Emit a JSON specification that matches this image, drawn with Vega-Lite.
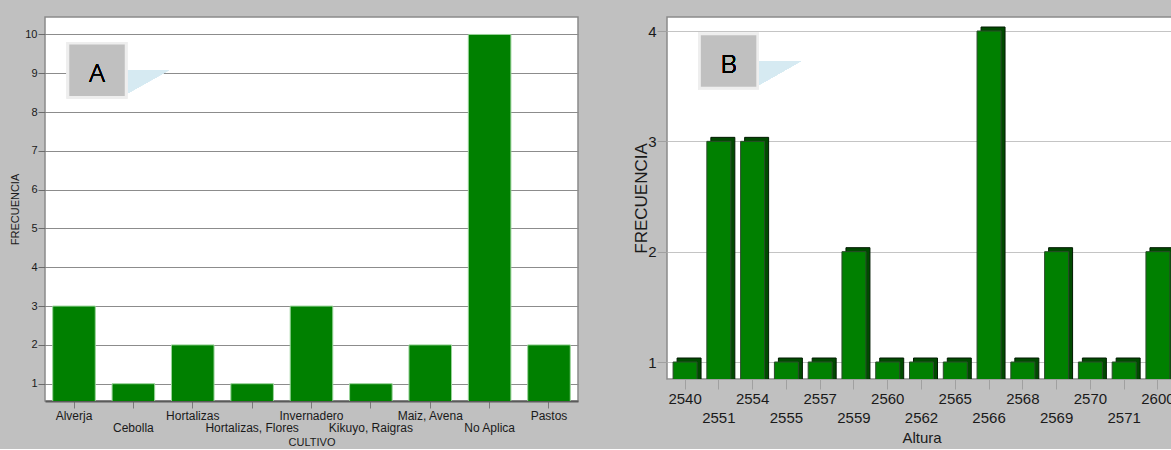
{
  "$schema": "https://vega.github.io/schema/vega-lite/v6.json",
  "background": "#c0c0c0",
  "padding": {"left": 9, "top": 16, "right": 0, "bottom": 0},
  "spacing": 52,
  "datasets": {
    "cultivo": [
      {"cultivo": "Alverja", "frecuencia": 3},
      {"cultivo": "Cebolla", "frecuencia": 1},
      {"cultivo": "Hortalizas", "frecuencia": 2},
      {"cultivo": "Hortalizas, Flores", "frecuencia": 1},
      {"cultivo": "Invernadero", "frecuencia": 3},
      {"cultivo": "Kikuyo, Raigras", "frecuencia": 1},
      {"cultivo": "Maiz, Avena", "frecuencia": 2},
      {"cultivo": "No Aplica", "frecuencia": 10},
      {"cultivo": "Pastos", "frecuencia": 2}
    ],
    "altura": [
      {"altura": "2540", "frecuencia": 1},
      {"altura": "2551", "frecuencia": 3},
      {"altura": "2554", "frecuencia": 3},
      {"altura": "2555", "frecuencia": 1},
      {"altura": "2557", "frecuencia": 1},
      {"altura": "2559", "frecuencia": 2},
      {"altura": "2560", "frecuencia": 1},
      {"altura": "2562", "frecuencia": 1},
      {"altura": "2565", "frecuencia": 1},
      {"altura": "2566", "frecuencia": 4},
      {"altura": "2568", "frecuencia": 1},
      {"altura": "2569", "frecuencia": 2},
      {"altura": "2570", "frecuencia": 1},
      {"altura": "2571", "frecuencia": 1},
      {"altura": "2600", "frecuencia": 2}
    ]
  },
  "config": {
    "view": {"fill": "white", "stroke": "#8a8a8a", "strokeWidth": 1.5},
    "axis": {
      "labelFont": "Liberation Sans",
      "titleFont": "Liberation Sans",
      "titleFontWeight": "normal",
      "labelColor": "#1a1a1a",
      "titleColor": "#1a1a1a"
    },
    "text": {"font": "Open Sans"}
  },
  "hconcat": [
    {
      "width": 533,
      "height": 384,
      "data": {"name": "cultivo"},
      "layer": [
        {
          "mark": {"type": "bar", "fill": "#008000", "stroke": "#9ad49a", "strokeWidth": 1, "clip": true},
          "encoding": {
            "x": {
              "field": "cultivo", "type": "nominal", "sort": null, "title": "CULTIVO",
              "scale": {"paddingInner": 0.283, "paddingOuter": 0.13},
              "axis": {
                "labelAngle": 0, "labelFontSize": 12, "labelLineHeight": 12.5, "labelPadding": 2,
                "labelOverlap": false, "labelBound": false,
                "labelExpr": "indexof(['Alverja','Cebolla','Hortalizas','Hortalizas, Flores','Invernadero','Kikuyo, Raigras','Maiz, Avena','No Aplica','Pastos'], datum.value) % 2 == 1 ? ['', datum.label] : datum.label",
                "domainColor": "#5a5a5a", "domainWidth": 2,
                "tickColor": "#7a7a7a", "tickSize": 7,
                "titleFontSize": 11, "titlePadding": 3
              }
            },
            "y": {
              "field": "frecuencia", "type": "quantitative", "title": "FRECUENCIA",
              "scale": {"domain": [0.554, 10.45], "zero": false, "nice": false},
              "axis": {
                "values": [1, 2, 3, 4, 5, 6, 7, 8, 9, 10], "format": "d",
                "domain": false, "grid": true, "gridColor": "#8c8c8c",
                "tickColor": "#6a6a6a", "tickSize": 7,
                "labelFontSize": 11, "labelPadding": 1,
                "titleFontSize": 11, "titlePadding": 4
              }
            }
          }
        },
        {
          "mark": {"type": "point", "filled": true, "opacity": 1, "fill": "#d6eaf2", "strokeWidth": 0, "size": 3364, "shape": "M1,0 L2.48,0 L1,0.83 Z", "xOffset": 23},
          "encoding": {
            "x": {"datum": "Alverja", "type": "nominal"},
            "y": {"datum": 9.08, "type": "quantitative"}
          }
        },
        {
          "mark": {"type": "point", "filled": true, "opacity": 1, "fill": "#c0c0c0", "stroke": "#eeeeee", "strokeWidth": 2.5, "size": 3364, "shape": "M-1,-0.931 L1,-0.931 L1,0.931 L-1,0.931 Z", "xOffset": 23},
          "encoding": {
            "x": {"datum": "Alverja", "type": "nominal"},
            "y": {"datum": 9.08, "type": "quantitative"}
          }
        },
        {
          "mark": {"type": "text", "text": "A", "fontSize": 26, "fontWeight": 300, "color": "#000000", "baseline": "alphabetic", "align": "center", "dy": 12, "xOffset": 23},
          "encoding": {
            "x": {"datum": "Alverja", "type": "nominal"},
            "y": {"datum": 9.08, "type": "quantitative"}
          }
        }
      ]
    },
    {
      "width": 509,
      "height": 362,
      "data": {"name": "altura"},
      "layer": [
        {
          "mark": {"type": "bar", "fill": "#004a00", "stroke": "#001a00", "strokeWidth": 1, "xOffset": 4, "yOffset": -4, "clip": true},
          "encoding": {
            "x": {
              "field": "altura", "type": "ordinal", "title": "Altura",
              "scale": {"paddingInner": 0.29, "paddingOuter": 0.18},
              "axis": {
                "labelAngle": 0, "labelFontSize": 15, "labelLineHeight": 19, "labelPadding": 2,
                "labelOverlap": false, "labelBound": false,
                "labelExpr": "indexof(['2540','2551','2554','2555','2557','2559','2560','2562','2565','2566','2568','2569','2570','2571','2600'], datum.value) % 2 == 1 ? ['', datum.label] : datum.label",
                "domainColor": "#a0a0a0", "domainWidth": 1,
                "tickColor": "#a0a0a0", "tickSize": 10,
                "titleFontSize": 15, "titlePadding": 5
              }
            },
            "y": {
              "field": "frecuencia", "type": "quantitative", "title": "FRECUENCIA",
              "scale": {"domain": [0.846, 4.127], "zero": false, "nice": false},
              "axis": {
                "values": [1, 2, 3, 4], "format": "d",
                "domain": false, "grid": true, "gridColor": "#c4c4c4",
                "tickColor": "#a0a0a0", "tickSize": 10,
                "labelFontSize": 15, "labelPadding": 1,
                "titleFontSize": 17, "titlePadding": -3
              }
            }
          }
        },
        {
          "mark": {"type": "bar", "fill": "#008000", "stroke": "#2a4a2a", "strokeWidth": 1, "clip": true},
          "encoding": {
            "x": {"field": "altura", "type": "ordinal", "title": "Altura"},
            "y": {"field": "frecuencia", "type": "quantitative", "title": "FRECUENCIA", "scale": {"domain": [0.846, 4.127], "zero": false, "nice": false}}
          }
        },
        {
          "mark": {"type": "point", "filled": true, "opacity": 1, "fill": "#d6eaf2", "strokeWidth": 0, "size": 3364, "shape": "M1,0 L2.5,0 L1,0.85 Z", "xOffset": 43.5},
          "encoding": {
            "x": {"datum": "2540", "type": "ordinal"},
            "y": {"datum": 3.728, "type": "quantitative"}
          }
        },
        {
          "mark": {"type": "point", "filled": true, "opacity": 1, "fill": "#c0c0c0", "stroke": "#eeeeee", "strokeWidth": 2.5, "size": 3364, "shape": "M-1,-0.931 L1,-0.931 L1,0.931 L-1,0.931 Z", "xOffset": 43.5},
          "encoding": {
            "x": {"datum": "2540", "type": "ordinal"},
            "y": {"datum": 3.728, "type": "quantitative"}
          }
        },
        {
          "mark": {"type": "text", "text": "B", "fontSize": 26, "fontWeight": 300, "color": "#000000", "baseline": "alphabetic", "align": "center", "dy": 12, "xOffset": 43.5},
          "encoding": {
            "x": {"datum": "2540", "type": "ordinal"},
            "y": {"datum": 3.728, "type": "quantitative"}
          }
        }
      ]
    }
  ]
}
